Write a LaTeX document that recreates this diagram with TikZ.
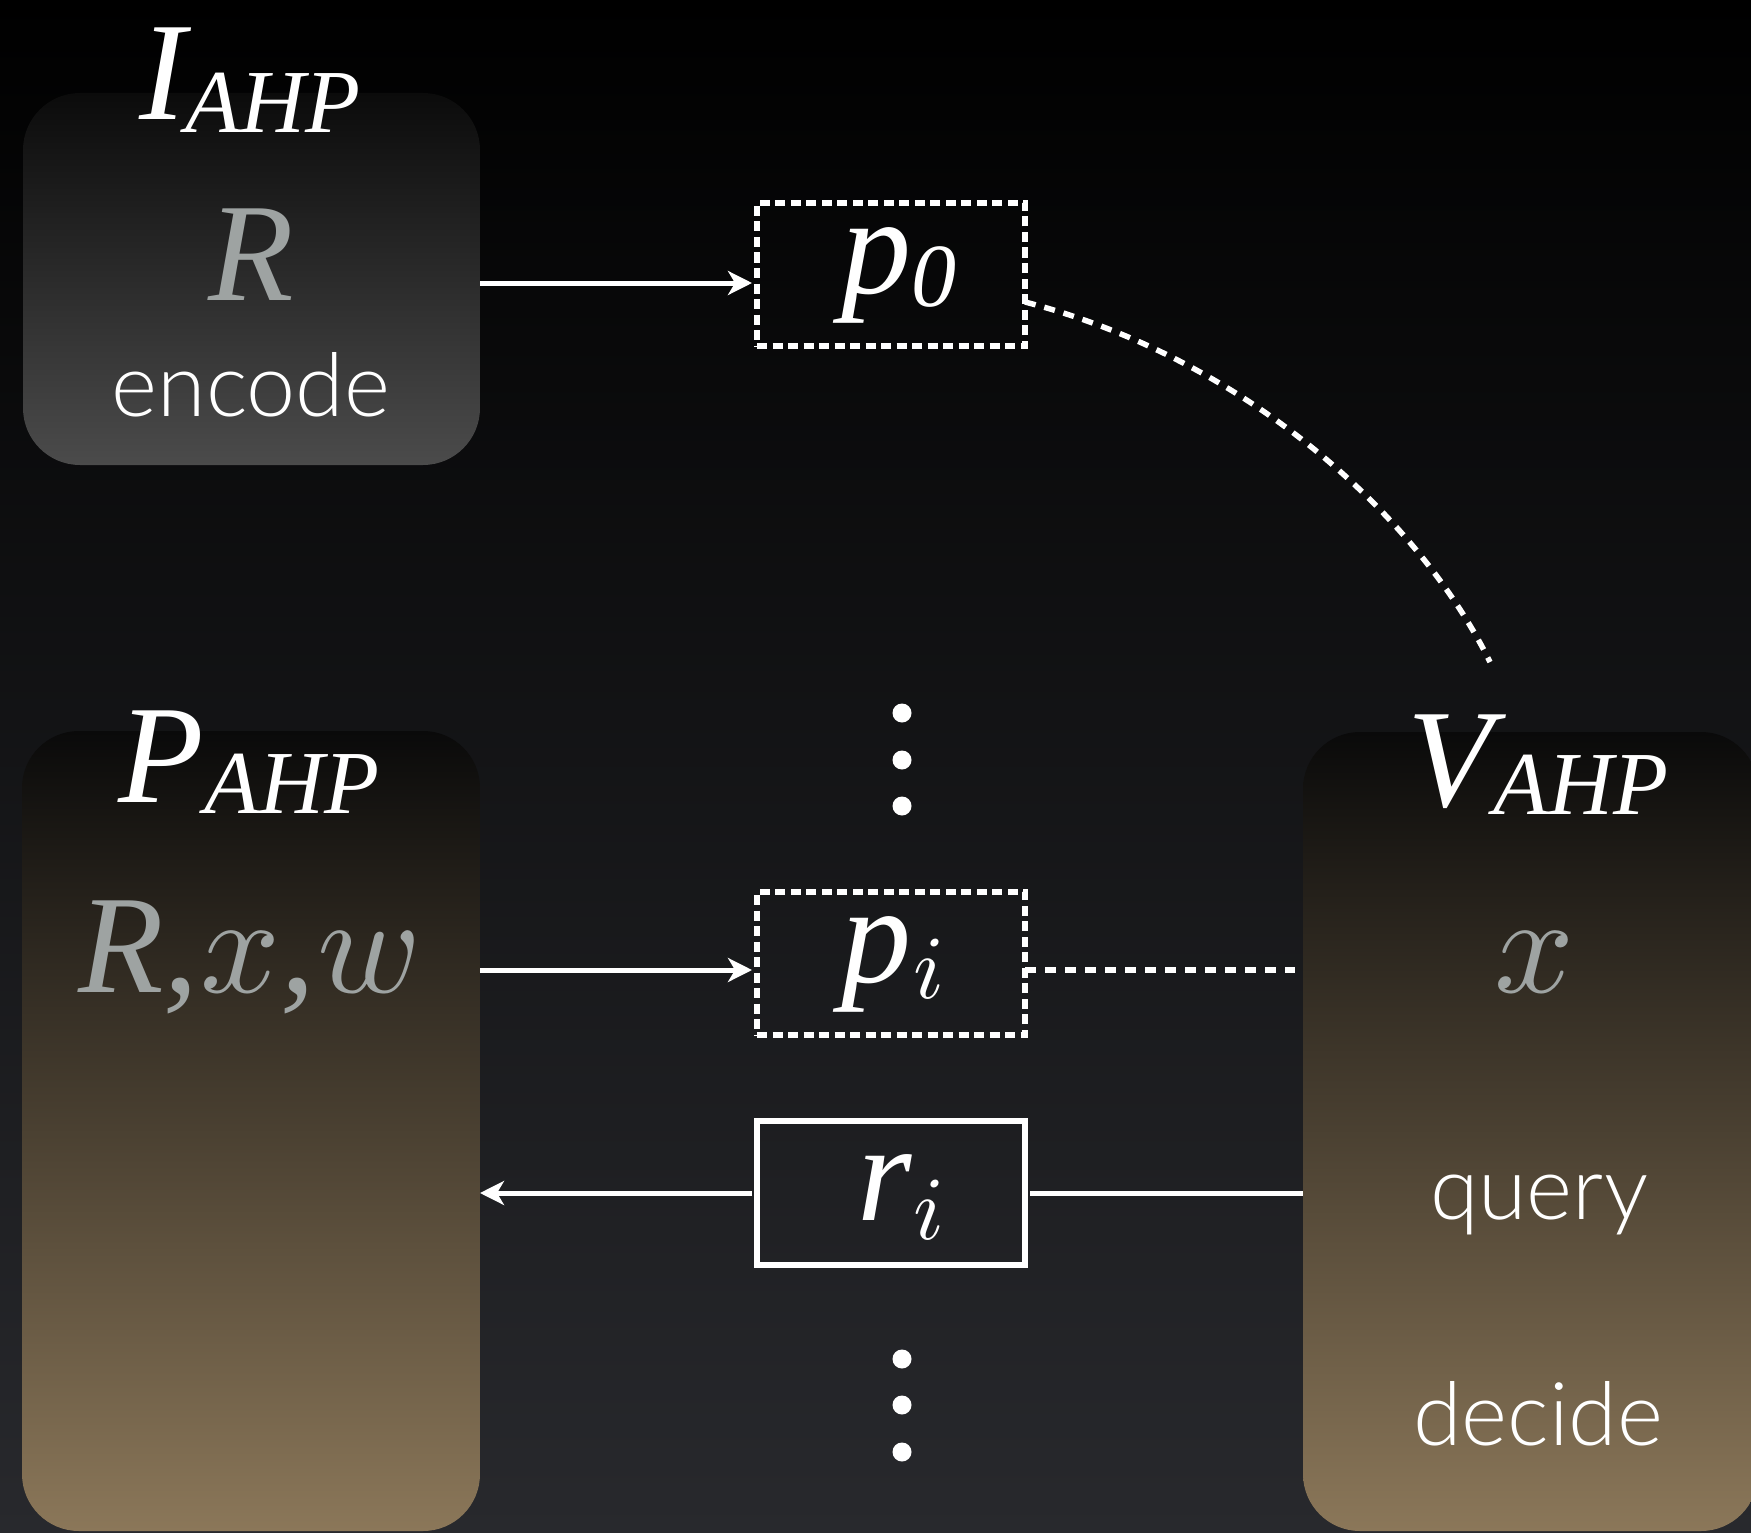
\documentclass[tikz,border=0pt]{standalone}
\usepackage{graphicx}
\usepackage{fontspec}
\setmainfont{Liberation Serif}
\newfontfamily\herosf{Lato Light}
\usetikzlibrary{arrows.meta}
\definecolor{txtgray}{RGB}{158,163,162}
\definecolor{bgbot}{RGB}{40,41,45}
\definecolor{ptop}{RGB}{10,10,10}
\definecolor{pbot}{RGB}{139,119,89}
\definecolor{itop}{RGB}{11,11,11}
\definecolor{ibot}{RGB}{75,75,75}
\newcommand\symsub[3]{{\fontsize{140}{140}\selectfont\itshape #1}\raisebox{-#3}{\fontsize{90}{90}\selectfont\itshape #2}}
\newcommand\bigital[1]{{\fontsize{140}{140}\selectfont\itshape #1}}
\newcommand\mathlet[1]{\scalebox{14}{\fontsize{10}{10}\selectfont$#1$}}
\newcommand\mathsub[1]{\scalebox{9}{\fontsize{10}{10}\selectfont$#1$}}
\newcommand\sanslbl[1]{{\herosf\fontsize{88}{88}\selectfont #1}}
\begin{document}
\begin{tikzpicture}[x=1pt,y=-1pt,
  every node/.style={inner sep=0pt, outer sep=0pt},
  partybox/.style={rounded corners=57pt, draw=none},
  msgdash/.style={draw=white, line width=5.5pt, dash pattern=on 10pt off 5.5pt, minimum width=268pt, minimum height=143pt},
  msgsolid/.style={draw=white, line width=6pt, minimum width=268pt, minimum height=144pt},
  arr/.style={draw=white, line width=5pt, -{Stealth[length=24pt,width=24pt,inset=7pt]}},
  link/.style={draw=white, line width=5pt},
  dlink/.style={draw=white, line width=5.5pt, dash pattern=on 11pt off 9pt},
  lbl/.style={anchor=base, text=white},
  glbl/.style={anchor=base, text=txtgray},
  dotnode/.style={circle, fill=white, minimum size=19pt}
]
\useasboundingbox (0,0) rectangle (1751,1533);
\fill[top color=black, bottom color=bgbot] (0,0) rectangle (1751,1533);

% party boxes
\node[partybox, top color=itop, bottom color=ibot, minimum width=457pt, minimum height=372pt] (boxI) at (251.5,279) {};
\node[partybox, top color=ptop, bottom color=pbot, minimum width=458pt, minimum height=800pt] (boxP) at (251,1131) {};
\node[partybox, top color=ptop, bottom color=pbot, minimum width=455pt, minimum height=799pt] (boxV) at (1530.5,1131.5) {};

% titles and contents
\node[lbl] (tI) at (250,120) {\symsub{I}{AHP}{13pt}};
\node[glbl] (inI) at (251,300) {\bigital{R}};
\node[lbl] (encI) at (251,416) {\sanslbl{encode}};

\node[lbl] (tP) at (249,802) {\symsub{P}{AHP}{11pt}};
\node[glbl] (inP) at (250,992) {\bigital{R,}\hspace{2pt}\mathlet{x}\bigital{,}\hspace{2pt}\mathlet{w}};

\node[lbl] (tV) at (1538,806) {\symsub{V}{AHP}{8pt}};
\node[glbl] (inV) at (1534,992) {\mathlet{x}};
\node[lbl] (qV) at (1539,1219) {\sanslbl{query}};
\node[lbl] (dV) at (1538,1445) {\sanslbl{decide}};

% message boxes
\node[msgdash] (p0) at (891,274.5) {};
\node[msgdash] (pi) at (891,963.5) {};
\node[msgsolid] (ri) at (891,1193) {};
\node[lbl] (p0t) at (899,293) {\symsub{p}{0}{13.5pt}};
\node[lbl] (pit) at (893,982) {\bigital{p}\hspace{2pt}\raisebox{-16pt}{\mathsub{i}}};
\node[lbl] (rit) at (901,1220) {\bigital{r}\hspace{2pt}\raisebox{-19pt}{\mathsub{i}}};

% dots
\node[dotnode] (da1) at (902,713) {};
\node[dotnode] (da2) at (902,760) {};
\node[dotnode] (da3) at (902,806) {};
\node[dotnode] (db1) at (902,1359) {};
\node[dotnode] (db2) at (902,1405) {};
\node[dotnode] (db3) at (902,1452) {};

% connectors
\coordinate (y1) at (0,283);
\coordinate (y2) at (0,970);
\coordinate (yc) at (0,302);
\coordinate (cEnd) at (1490,662);
\draw[arr, shorten >=5pt] (boxI.east |- y1) -- (p0.west |- y1);
\draw[arr, shorten >=5pt] (boxP.east |- y2) -- (pi.west |- y2);
\draw[dlink, shorten >=8pt] (pi.east |- y2) -- (boxV.west |- y2);
\draw[arr, shorten <=5pt] (ri.west) -- (boxP.east |- ri.west);
\draw[link, shorten <=5pt] (ri.east) -- (boxV.west |- ri.east);
\draw[dlink] (p0.east |- yc) .. controls (1250,360) and (1420,520) .. (cEnd);
\end{tikzpicture}
\end{document}
